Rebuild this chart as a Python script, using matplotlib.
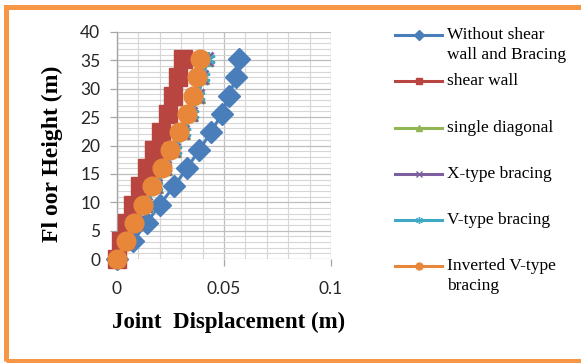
"""Lateral joint displacement along the building height for several bracing systems."""

import matplotlib

matplotlib.use("Agg")
import matplotlib.pyplot as plt  # noqa: E402
from matplotlib.lines import Line2D  # noqa: E402
from matplotlib.patches import Rectangle  # noqa: E402
from matplotlib.ticker import FuncFormatter, MultipleLocator  # noqa: E402

# storey levels (m)
height = [0, 3.2, 6.4, 9.6, 12.8, 16.0, 19.2, 22.4, 25.6, 28.8, 32.0, 35.2]

# joint displacement (m) per system
disp_bare = [0, 0.0075, 0.0140, 0.0200, 0.0266, 0.0327, 0.0384, 0.0440, 0.0490, 0.0524, 0.0556, 0.0570]
disp_shear_wall = [0, 0.0019, 0.0047, 0.0075, 0.0107, 0.0140, 0.0173, 0.0206, 0.0238, 0.0260, 0.0285, 0.0310]
disp_single_diag = [0, 0.0048, 0.0090, 0.0135, 0.0180, 0.0225, 0.0268, 0.0310, 0.0348, 0.0378, 0.0398, 0.0418]
disp_x_brace = [0, 0.0046, 0.0087, 0.0131, 0.0176, 0.0220, 0.0263, 0.0305, 0.0343, 0.0374, 0.0394, 0.0414]
disp_v_brace = [0, 0.0049, 0.0091, 0.0136, 0.0181, 0.0226, 0.0270, 0.0312, 0.0350, 0.0380, 0.0402, 0.0425]
disp_inv_v = [0, 0.0042, 0.0080, 0.0123, 0.0165, 0.0210, 0.0248, 0.0290, 0.0327, 0.0357, 0.0375, 0.0390]

labels = [
    "Without shear\nwall and Bracing",
    "shear wall",
    "single diagonal",
    "X-type bracing",
    "V-type bracing",
    "Inverted V-type\nbracing",
]
series = [disp_bare, disp_shear_wall, disp_single_diag, disp_x_brace, disp_v_brace, disp_inv_v]
colors = ["#4A7EBB", "#B8453F", "#93B655", "#7D5FA0", "#3FA8C4", "#E8873A"]
markers = ["D", "s", "^", "x", (6, 2, 0), "o"]
msizes = [11, 13, 10.5, 9.5, 10.5, 13.5]

W, H = 581, 363
fig = plt.figure(figsize=(W / 100, H / 100), dpi=100)

# plot area in pixels: x 117..331, y 32..259
ax = fig.add_axes([117 / W, 1 - 259 / H, 214 / W, 227 / H])

for disp, col, mk, ms in zip(series, colors, markers, msizes):
    ax.plot(disp, height, color=col, lw=2.2, marker=mk, ms=ms, mec=col,
            mew=2 if mk in ("x", (6, 2, 0)) else 1, zorder=3, clip_on=False)

ax.set_xlim(0, 0.1)
ax.set_ylim(0, 40)
ax.xaxis.set_major_locator(MultipleLocator(0.05))
ax.xaxis.set_minor_locator(MultipleLocator(0.01))
ax.yaxis.set_major_locator(MultipleLocator(5))
ax.yaxis.set_minor_locator(MultipleLocator(1))
ax.xaxis.set_major_formatter(FuncFormatter(lambda v, p: f"{v:g}"))

ax.grid(True, which="major", color="#BEBEBE", lw=0.9, zorder=0)
ax.grid(True, which="minor", color="#D6D6D6", lw=0.8, zorder=0)
ax.set_axisbelow(True)

for side in ("top", "right", "bottom"):
    ax.spines[side].set_visible(False)
ax.spines["left"].set_color("#A6A6A6")
ax.spines["left"].set_linewidth(1.0)

ax.tick_params(which="major", length=5, width=0.9, color="#A6A6A6",
               labelsize=12.5, labelcolor="#262626", pad=7)
ax.tick_params(which="minor", length=0)
ax.tick_params(axis="x", which="major", pad=11)
for lbl in ax.get_xticklabels() + ax.get_yticklabels():
    lbl.set_family("Lato")

# axis titles
fig.text(229 / W, 1 - 322 / H, "Joint  Displacement (m)", family="Liberation Serif",
         weight="bold", fontsize=16.5, ha="center", va="center")
fig.text(52 / W, 1 - 154 / H, "Fl oor Height (m)", family="Liberation Serif",
         weight="bold", fontsize=17, ha="center", va="center", rotation=90)

# legend, handle aligned with the first text line
legend_y = [35, 81, 128, 174, 220, 266]
for lab, col, mk, y in zip(labels, colors, markers, legend_y):
    yf = 1 - y / H
    fig.add_artist(Line2D([395 / W, 442 / W], [yf, yf], color=col, lw=2.2,
                          transform=fig.transFigure))
    fig.add_artist(Line2D([418.5 / W], [yf], color=col, marker=mk, ms=5,
                          mew=1, transform=fig.transFigure))
    two_lines = "\n" in lab
    fig.text(447 / W, yf + (8 / H if two_lines else 0), lab,
             family="Liberation Serif", fontsize=12.5, ha="left",
             va="top" if two_lines else "center", linespacing=1.3)

# orange frame around the figure
fig.add_artist(Rectangle((5.5 / W, 1 - 360.5 / H), 600 / W, (360.5 - 6.5) / H,
                         fill=False, ec="#F79646", lw=3.6,
                         transform=fig.transFigure))

fig.savefig("out.png", dpi=100)
